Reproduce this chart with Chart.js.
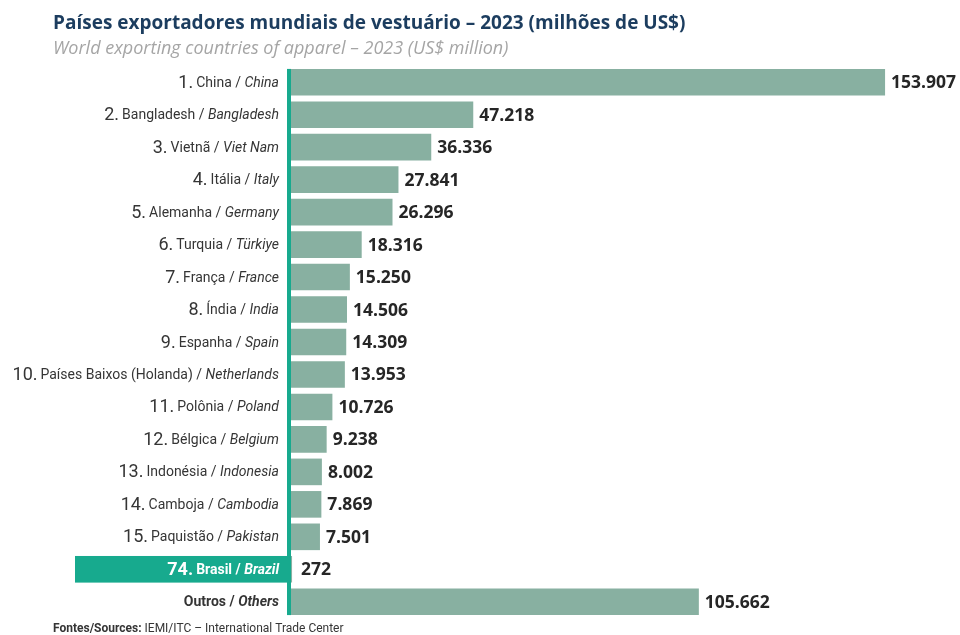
<!DOCTYPE html>
<html><head><meta charset="utf-8">
<script src="https://cdn.jsdelivr.net/npm/chart.js@4"></script>
<style>html,body{margin:0;padding:0;background:#fff}#wrap{width:960px;height:635px;position:relative}</style>
</head><body><div id="wrap"><canvas id="c" width="960" height="635"></canvas></div>
<script>
const titleText = "Países exportadores mundiais de vestuário – 2023 (milhões de US$)";
const subtitleText = "World exporting countries of apparel – 2023 (US$ million)";
const sourceBold = "Fontes/Sources:";
const sourceText = "IEMI/ITC – International Trade Center";

const ranks = ["1.","2.","3.","4.","5.","6.","7.","8.","9.","10.","11.","12.","13.","14.","15.","74.",""];
const namesPt = ["China","Bangladesh","Vietnã","Itália","Alemanha","Turquia","França","Índia","Espanha","Países Baixos (Holanda)","Polônia","Bélgica","Indonésia","Camboja","Paquistão","Brasil","Outros"];
const namesEn = ["China","Bangladesh","Viet Nam","Italy","Germany","Türkiye","France","India","Spain","Netherlands","Poland","Belgium","Indonesia","Cambodia","Pakistan","Brazil","Others"];
const values = [153907,47218,36336,27841,26296,18316,15250,14506,14309,13953,10726,9238,8002,7869,7501,272,105662];
const valueLabels = ["153.907","47.218","36.336","27.841","26.296","18.316","15.250","14.506","14.309","13.953","10.726","9.238","8.002","7.869","7.501","272","105.662"];
const highlightIndex = 15;
const othersIndex = 16;

const BAR = '#88b0a1', TEAL = '#17aa8e', TEXT = '#353535', NAVY = '#1c3d5f', SUB = '#a5a5a5', VAL = '#262626';
const LF = '"Liberation Sans Narrow", "Roboto", sans-serif';

function drawParts(ctx, parts, xRight, y) {
  let total = 0;
  parts.forEach(p => { ctx.font = p.font; p.w = ctx.measureText(p.t).width; total += p.w + (p.gap || 0); });
  let x = xRight - total;
  parts.forEach(p => {
    ctx.font = p.font; ctx.fillStyle = p.color;
    ctx.fillText(p.t, x, y);
    x += p.w + (p.gap || 0);
  });
}

const deco = {
  id: 'deco',
  beforeDatasetsDraw(chart) {
    const { ctx, chartArea } = chart;
    const meta = chart.getDatasetMeta(0);
    const n = meta.data.length;
    const hl = meta.data[highlightIndex];
    const h = hl.height;
    ctx.save();
    ctx.fillStyle = TEAL;
    ctx.fillRect(75, hl.y - h / 2, chartArea.left - 4 - 75, h);
    const top = meta.data[0].y - meta.data[0].height / 2;
    const bot = meta.data[n - 1].y + meta.data[n - 1].height / 2;
    ctx.fillRect(chartArea.left - 4, top, 4, bot - top);
    ctx.restore();
  },
  afterDatasetsDraw(chart) {
    const { ctx, chartArea } = chart;
    const meta = chart.getDatasetMeta(0);
    ctx.save();
    ctx.textBaseline = 'middle';
    meta.data.forEach((el, i) => {
      const y = el.y + 1;
      const xr = chartArea.left - 12;
      let parts;
      if (i === highlightIndex) {
        parts = [
          { t: ranks[i], font: `bold 18px ${LF}`, color: '#fff', gap: 3 },
          { t: namesPt[i] + ' / ', font: `bold 14px ${LF}`, color: '#fff' },
          { t: namesEn[i], font: `italic bold 14px ${LF}`, color: '#fff' }
        ];
      } else if (i === othersIndex) {
        parts = [
          { t: namesPt[i] + ' / ', font: `bold 14px ${LF}`, color: TEXT },
          { t: namesEn[i], font: `italic bold 14px ${LF}`, color: TEXT }
        ];
      } else {
        parts = [
          { t: ranks[i], font: `18px ${LF}`, color: TEXT, gap: 3 },
          { t: namesPt[i] + ' / ', font: `14px ${LF}`, color: TEXT },
          { t: namesEn[i], font: `italic 14px ${LF}`, color: TEXT }
        ];
      }
      drawParts(ctx, parts, xr, y);
      ctx.font = 'bold 17.5px "Open Sans", sans-serif';
      ctx.fillStyle = VAL;
      ctx.textAlign = 'left';
      ctx.fillText(valueLabels[i], Math.max(el.x, chartArea.left + 4) + 6, el.y + 1);
    });
    ctx.restore();
  },
  afterDraw(chart) {
    const { ctx } = chart;
    ctx.save();
    ctx.textBaseline = 'alphabetic';
    ctx.textAlign = 'left';
    ctx.fillStyle = NAVY;
    ctx.font = 'bold 19px "Open Sans", sans-serif';
    ctx.fillText(titleText, 53, 29);
    ctx.fillStyle = SUB;
    ctx.font = 'italic 18px "Open Sans", sans-serif';
    ctx.fillText(subtitleText, 53, 54);
    ctx.fillStyle = TEXT;
    ctx.font = `bold 12px ${LF}`;
    ctx.fillText(sourceBold, 53, 632);
    const w = ctx.measureText(sourceBold + ' ').width;
    ctx.font = `12px ${LF}`;
    ctx.fillText(sourceText, 53 + w, 632);
    ctx.restore();
  }
};

new Chart(document.getElementById('c'), {
  type: 'bar',
  data: {
    labels: namesPt,
    datasets: [{
      data: values,
      backgroundColor: BAR,
      borderWidth: 0,
      barPercentage: 0.82,
      categoryPercentage: 1
    }]
  },
  options: {
    indexAxis: 'y',
    responsive: false,
    animation: false,
    devicePixelRatio: 1,
    layout: { padding: { top: 66, bottom: 17, left: 0, right: 2 } },
    plugins: { legend: { display: false }, tooltip: { enabled: false }, title: { display: false } },
    scales: {
      x: { min: 0, max: 172800, display: false },
      y: {
        ticks: { display: false },
        grid: { display: false },
        border: { display: false },
        afterFit(s) { s.width = 291; }
      }
    }
  },
  plugins: [deco]
});
</script>
</body></html>
